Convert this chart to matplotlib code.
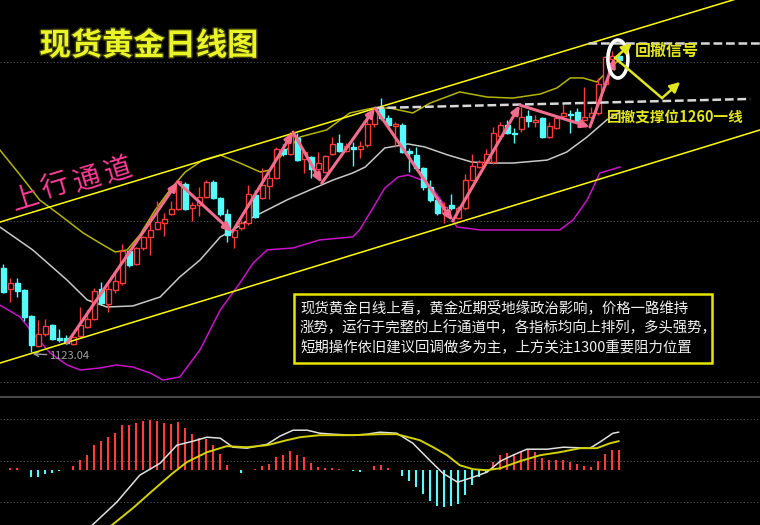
import matplotlib
matplotlib.use('Agg')
import matplotlib.pyplot as plt
import matplotlib.patheffects as pe
from matplotlib.patches import Rectangle, Ellipse
import numpy as np

plt.rcParams['font.family'] = ['Noto Sans CJK SC', 'DejaVu Sans']

# ---- daily candles (price) ----
opens = [1171.0, 1159.0, 1162.4, 1158.4, 1143.6, 1126.4, 1133.3, 1138.4, 1131.0, 1131.0,
         1127.6, 1132.1, 1137.3, 1141.9, 1159.0, 1150.4, 1158.4, 1162.4, 1180.7, 1173.3,
         1182.4, 1188.7, 1193.2, 1196.7, 1201.8, 1204.7, 1218.9, 1205.2, 1206.9, 1211.5,
         1220.1, 1210.9, 1201.8, 1188.7, 1193.8, 1196.7, 1212.7, 1210.9, 1217.8, 1222.4,
         1238.9, 1236.1, 1245.2, 1233.2, 1234.4, 1227.5, 1225.8, 1236.1, 1242.3, 1237.8,
         1240.1, 1238.9, 1241.2, 1253.2, 1261.8, 1256.6, 1252.1, 1252.6, 1237.8, 1235.5,
         1228.1, 1217.2, 1209.8, 1202.4, 1206.9, 1199.5, 1205.2, 1221.2, 1228.6, 1231.5,
         1231.5, 1246.3, 1252.6, 1248.1, 1250.3, 1257.8, 1254.3, 1256.6, 1245.8, 1250.9,
         1257.8, 1258.9, 1260.0, 1255.5, 1257.2, 1259.5, 1276.0, 1290.3, 1292.0]
highs = [1173.3, 1165.3, 1165.3, 1159.0, 1144.3, 1141.3, 1141.9, 1139.0, 1136.1, 1132.7,
         1132.1, 1148.7, 1147.0, 1159.6, 1163.0, 1161.3, 1168.1, 1184.7, 1181.8, 1183.0,
         1189.2, 1200.1, 1209.2, 1202.4, 1209.2, 1221.2, 1220.1, 1208.7, 1217.2, 1221.2,
         1221.2, 1211.5, 1204.7, 1193.8, 1198.4, 1218.4, 1215.5, 1228.1, 1225.2, 1240.1,
         1241.8, 1248.6, 1248.1, 1237.8, 1234.9, 1237.2, 1235.5, 1245.8, 1247.5, 1242.3,
         1242.9, 1243.5, 1258.3, 1262.9, 1268.0, 1258.3, 1254.3, 1253.8, 1239.5, 1240.1,
         1228.6, 1221.2, 1210.4, 1208.7, 1213.2, 1206.4, 1224.6, 1236.1, 1232.6, 1238.9,
         1251.5, 1254.3, 1255.5, 1250.9, 1262.9, 1261.2, 1258.3, 1257.2, 1254.3, 1258.3,
         1264.6, 1261.2, 1262.3, 1274.3, 1262.9, 1279.5, 1292.0, 1294.9, 1293.7]
lows = [1156.7, 1151.6, 1154.4, 1140.7, 1123.0, 1125.9, 1132.1, 1129.9, 1128.7, 1127.6,
        1127.0, 1131.6, 1136.7, 1141.3, 1149.8, 1145.8, 1156.7, 1161.3, 1171.5, 1172.7,
        1181.3, 1178.4, 1192.7, 1189.2, 1201.2, 1204.1, 1204.1, 1197.8, 1200.7, 1210.9,
        1210.4, 1200.7, 1185.8, 1182.4, 1192.7, 1195.5, 1199.5, 1210.4, 1210.4, 1221.8,
        1234.9, 1235.5, 1232.1, 1225.2, 1222.4, 1222.4, 1225.2, 1235.5, 1237.2, 1237.2,
        1229.2, 1233.8, 1240.1, 1251.5, 1255.5, 1251.5, 1240.1, 1236.6, 1225.8, 1226.9,
        1215.5, 1208.7, 1201.2, 1196.7, 1204.1, 1199.0, 1204.1, 1220.6, 1228.1, 1230.9,
        1230.4, 1245.2, 1247.5, 1242.3, 1248.6, 1251.5, 1251.5, 1245.2, 1245.2, 1250.3,
        1257.2, 1248.1, 1253.8, 1254.9, 1256.6, 1258.3, 1275.5, 1289.2, 1288.0]
closes = [1157.3, 1162.4, 1157.8, 1143.0, 1127.0, 1133.3, 1137.9, 1130.4, 1129.9, 1128.1,
          1131.6, 1138.4, 1141.9, 1157.8, 1151.0, 1159.0, 1163.5, 1180.7, 1172.7, 1182.4,
          1188.7, 1192.7, 1197.2, 1199.0, 1204.7, 1220.6, 1204.7, 1206.9, 1211.5, 1220.1,
          1210.9, 1201.8, 1189.8, 1192.7, 1196.7, 1213.2, 1200.1, 1218.4, 1222.4, 1238.9,
          1236.1, 1246.9, 1232.6, 1237.2, 1227.5, 1230.9, 1234.9, 1241.8, 1237.8, 1240.6,
          1238.9, 1240.6, 1253.2, 1262.3, 1256.6, 1252.6, 1253.2, 1237.2, 1236.6, 1228.1,
          1217.2, 1209.8, 1202.4, 1205.8, 1205.2, 1205.2, 1221.2, 1229.2, 1231.5, 1236.1,
          1248.1, 1252.6, 1248.1, 1247.5, 1257.2, 1254.9, 1255.5, 1245.8, 1252.1, 1256.6,
          1259.5, 1258.3, 1254.3, 1257.2, 1259.5, 1276.0, 1291.5, 1292.0, 1289.7]

# ---- Bollinger bands ----
boll_up_x = [-0.5, 2.4, 5.2, 8.1, 11.4, 13.8, 16.0, 17.7, 19.5, 21.7, 23.8, 26.0, 28.5, 31.0, 33.8,
             36.7, 38.1, 40.0, 42.4, 46.2, 49.5, 52.8, 55.2, 58.5, 61.0, 65.2, 69.1, 72.8, 76.7,
             79.1, 81.0, 82.8, 84.8, 86.2, 87.9]
boll_up = [1238.4, 1224.1, 1209.8, 1201.2, 1191.0, 1185.2, 1180.1, 1181.3, 1189.8, 1204.1, 1215.5,
           1225.8, 1232.6, 1235.5, 1230.9, 1225.8, 1226.9, 1236.6, 1245.8, 1249.8, 1259.5, 1262.3,
           1262.3, 1259.5, 1265.2, 1271.5, 1268.6, 1268.0, 1270.3, 1273.8, 1279.5, 1279.5, 1277.2,
           1282.9, 1289.7]
boll_mid_x = [-0.5, 4.2, 9.1, 12.0, 14.8, 18.5, 22.4, 25.2, 28.1, 31.0, 32.8, 35.7, 37.7, 40.5,
              47.1, 49.9, 51.7, 54.5, 57.8, 60.2, 63.5, 66.9, 69.8, 72.8, 77.7, 80.5, 83.4, 86.2, 87.9]
boll_mid = [1194.4, 1181.3, 1164.1, 1152.7, 1148.7, 1149.3, 1154.4, 1165.8, 1175.5, 1188.7, 1192.7,
            1200.1, 1204.1, 1209.8, 1221.2, 1225.2, 1228.6, 1239.5, 1241.8, 1240.1, 1235.5, 1231.5,
            1230.9, 1230.9, 1232.6, 1237.2, 1245.8, 1255.5, 1259.5]
boll_low_x = [-0.5, 2.4, 4.2, 6.7, 9.1, 11.0, 13.8, 16.2, 18.5, 21.0, 22.8, 25.2, 28.1, 31.0, 33.8,
              35.7, 37.7, 41.4, 45.2, 49.9, 50.9, 52.8, 54.5, 56.4, 57.8, 59.8, 61.3, 62.7, 64.1,
              64.8, 68.1, 72.8, 79.5, 81.4, 83.4, 84.3, 85.2, 88.1]
boll_low = [1149.8, 1143.0, 1133.9, 1122.4, 1115.6, 1112.7, 1113.9, 1115.6, 1114.4, 1111.0, 1107.0,
            1108.7, 1124.2, 1147.0, 1162.4, 1173.8, 1181.3, 1182.4, 1187.0, 1188.7, 1192.7, 1205.2,
            1216.6, 1222.9, 1224.1, 1221.2, 1216.6, 1208.7, 1199.5, 1194.4, 1192.7, 1192.7, 1192.7,
            1198.4, 1209.8, 1217.2, 1225.2, 1228.6]

# ---- hand-drawn analysis lines ----
chan_x = [-0.47, 108.1]
chan_upper = [1197.2, 1328.7]
chan_lower = [1116.7, 1249.8]
zigzag_x = [9.1, 24.9, 32.7, 41.4, 45.5, 53.1, 64.2, 73.8, 83.8, 87.4]
zigzag_y = [1128.1, 1220.1, 1191.5, 1248.6, 1219.5, 1262.3, 1197.8, 1264.0, 1251.5, 1290.9]
resist_x = [83.5, 108.1]
resist_y = [1299.4, 1299.4]
support_x = [53.1, 106.7]
support_y = [1262.3, 1267.5]
low_mark = 1123.04

# ---- MACD ----
macd_hist = [-0.1, 0.3, 0.4, -0.1, -1.4, -1.4, -0.8, -0.7, -0.3, 0.0,
             0.7, 1.9, 2.9, 4.9, 5.7, 6.5, 7.3, 8.9, 8.9, 9.3,
             9.8, 10.0, 9.8, 9.4, 9.1, 9.5, 8.4, 7.1, 6.4, 6.1,
             4.9, 3.1, 0.9, -0.1, -0.6, -0.1, 0.1, 0.7, 1.1, 2.6,
             2.9, 3.7, 2.9, 2.6, 1.4, 0.5, 0.3, 0.3, 0.1, 0.0,
             -0.3, -0.5, 0.0, 0.7, 0.9, 0.3, 0.0, -1.2, -2.2, -3.4,
             -4.8, -6.2, -7.2, -7.4, -7.2, -6.9, -5.0, -3.0, -1.4, -0.5,
             1.6, 2.9, 3.3, 3.1, 3.8, 3.9, 3.5, 2.4, 2.0, 1.9,
             1.9, 1.6, 1.1, 0.8, 0.6, 1.7, 3.1, 3.9, 3.9]
dif_x = [12.7, 16.2, 19.5, 22.4, 24.8, 27.1, 29.1, 31.0, 32.8, 34.8, 37.7, 39.5, 41.4, 43.4, 45.2,
         47.1, 49.9, 51.9, 53.8, 56.2, 58.5, 60.9, 62.8, 64.9, 67.1, 69.1, 71.0, 72.8, 74.8, 77.7,
         80.0, 83.8, 85.2, 87.1, 87.9]
dif = [-11.1, -6.5, -1.1, 1.3, 4.9, 5.7, 6.5, 6.3, 4.5, 4.3, 5.1, 6.7, 7.9, 7.9, 7.3, 7.1, 6.9,
       7.1, 7.5, 7.3, 5.3, 1.9, -0.7, -2.5, -1.5, -0.5, 1.7, 2.9, 4.1, 4.1, 4.5, 4.3, 5.5, 7.3, 7.5]
dea_x = [15.5, 18.5, 21.4, 24.2, 26.2, 29.1, 31.9, 34.8, 37.7, 40.5, 42.4, 45.2, 49.9, 53.8, 56.2,
         59.5, 61.4, 63.4, 65.2, 67.1, 69.1, 71.0, 73.8, 76.7, 79.5, 82.4, 84.8, 86.7, 87.9]
dea = [-11.1, -7.7, -4.1, -0.7, 1.5, 3.5, 4.7, 4.5, 4.9, 5.9, 6.5, 6.9, 6.9, 7.1, 7.1, 5.9, 4.5,
       2.9, 0.9, 0.1, -0.1, 0.3, 1.7, 2.9, 3.5, 4.3, 4.3, 5.3, 5.7]

title = '现货黄金日线图'
channel_label = '上行通道'
note_lines = ['现货黄金日线上看，黄金近期受地缘政治影响，价格一路维持',
              '涨势，运行于完整的上行通道中，各指标均向上排列，多头强势，',
              '短期操作依旧建议回调做多为主，上方关注1300重要阻力位置']

RED = '#ff3c3c'
CYAN = '#54fcfc'
PINK = '#f26d8d'
YEL = '#e1e61e'

W, H = 760, 525
fig = plt.figure(figsize=(W / 100, H / 100), dpi=100, facecolor='black')
split = (H - 397) / H
ax = fig.add_axes([0, split, 1, 1 - split])
ax2 = fig.add_axes([0, 0, 1, split])


def fpos(x, y):
    # pixel position in the 760x525 frame -> figure fraction
    return x / W, 1 - y / H


for a in (ax, ax2):
    a.set_facecolor('black')
    a.set_xticks([])
    a.set_yticks([])
    for s in a.spines.values():
        s.set_visible(False)
    a.set_xlim(-0.47, 108.1)

ax.set_ylim(1097.3, 1324.0)
ax2.set_ylim(-11.06, 14.54)
ax2.spines['top'].set_visible(True)
ax2.spines['top'].set_color('#484848')
ax2.spines['top'].set_linewidth(1.5)

for lvl in (1288.6, 1197.8, 1105.9):
    ax.axhline(lvl, color='#555555', lw=0.8, ls=(0, (1, 2)), zorder=0)
for lvl in (10.08, 1.68, -6.52):
    ax2.axhline(lvl, color='#555555', lw=0.8, ls=(0, (1, 2)), zorder=0)

# candles
idx = np.arange(len(opens))
o = np.array(opens); c = np.array(closes)
up = c >= o
cols = np.where(up, RED, CYAN)
ax.vlines(idx, lows, highs, colors=cols, lw=1, zorder=3)
body_h = np.maximum(np.abs(c - o), 0.4)
ax.bar(idx, body_h, bottom=np.minimum(o, c), width=0.7,
       color=np.where(up, 'black', CYAN), edgecolor=cols, linewidth=1, zorder=4)

# bollinger
ax.plot(boll_up_x, boll_up, color='#b4b400', lw=1.1, zorder=2)
ax.plot(boll_mid_x, boll_mid, color='#c8c8c8', lw=1.1, zorder=2)
ax.plot(boll_low_x, boll_low, color='#c814c8', lw=1.1, zorder=2)

# channel
ax.plot(chan_x, chan_upper, color='#ffff00', lw=1.1, zorder=5)
ax.plot(chan_x, chan_lower, color='#ffff00', lw=1.1, zorder=5)

# dashed levels
ax.plot(resist_x, resist_y, color='#d8d8d8', lw=1.8, dashes=(3.5, 1.5), zorder=5)
ax.plot(support_x, support_y, color='#d8d8d8', lw=1.8, dashes=(3.5, 1.5), zorder=5)

# zigzag
for i in range(len(zigzag_x) - 1):
    ax.annotate('', xy=(zigzag_x[i + 1], zigzag_y[i + 1]), xytext=(zigzag_x[i], zigzag_y[i]),
                arrowprops=dict(arrowstyle='-|>,head_length=0.5,head_width=0.22', color=PINK,
                                lw=2.2, shrinkA=0, shrinkB=0), zorder=6)

# pullback signal
ax.add_patch(Ellipse((87.8, 1290.3), 2.86, 21.7, fill=False, ec='white', lw=2.6, zorder=7))
arrow_kw = dict(arrowstyle='-|>,head_length=0.6,head_width=0.3', color=YEL, lw=1.8,
                shrinkA=0, shrinkB=0)
ax.annotate('', xy=(89.8, 1299.4), xytext=(87.4, 1290.9), arrowprops=arrow_kw, zorder=7)
ax.plot([87.4, 94.1], [1290.9, 1268.0], color=YEL, lw=1.8, zorder=7)
ax.annotate('', xy=(96.7, 1277.2), xytext=(94.1, 1268.0), arrowprops=arrow_kw, zorder=7)

# low label
ax.annotate(f'{low_mark:.2f}', xy=(4.2, 1121.9), xytext=(6.6, 1120.9), color='#a0a0a0',
            fontsize=8, va='center', ha='left',
            arrowprops=dict(arrowstyle='->', color='#a0a0a0', lw=1, shrinkA=0, shrinkB=0))

# MACD
ax2.vlines(idx, 0, macd_hist, colors=np.where(np.array(macd_hist) >= 0, RED, CYAN), lw=1.5)
ax2.plot(dif_x, dif, color='#e0e0e0', lw=1.1)
ax2.plot(dea_x, dea, color='#d2d200', lw=1.4)

# texts
x, y = fpos(149, 46)
fig.text(x, y, title, fontsize=22.5, fontweight='bold', color='#eaf528', ha='center', va='center',
         path_effects=[pe.withStroke(linewidth=2, foreground='#3c3c00')])

for ch, (cx, cy) in zip(channel_label, [(25, 198), (55, 186), (87, 179), (118, 170)]):
    x, y = fpos(cx, cy)
    fig.text(x, y, ch, fontsize=20, color='#ff3c96', rotation=17, ha='center', va='center',
             rotation_mode='anchor')

x, y = fpos(667, 51)
fig.text(x, y, '回撤信号', fontsize=11.5, fontweight='bold', color=YEL, ha='center', va='center')
x, y = fpos(675, 118)
fig.text(x, y, '回撤支撑位1260一线', fontsize=10.5, fontweight='bold', color=YEL,
         ha='center', va='center')

bx0, by0 = fpos(294, 362.5)
fig.patches.append(Rectangle((bx0, by0), (712 - 294) / W, (362.5 - 294) / H, transform=fig.transFigure,
                             facecolor='black', edgecolor='#e6e600', lw=1.8, zorder=8))
for line, ly in zip(note_lines, [308, 328, 348]):
    x, y = fpos(300, ly)
    fig.text(x, y, line, fontsize=10.4, color='#f0f0f0', ha='left', va='center', zorder=9)

fig.savefig('out.png', dpi=100, facecolor='black')
